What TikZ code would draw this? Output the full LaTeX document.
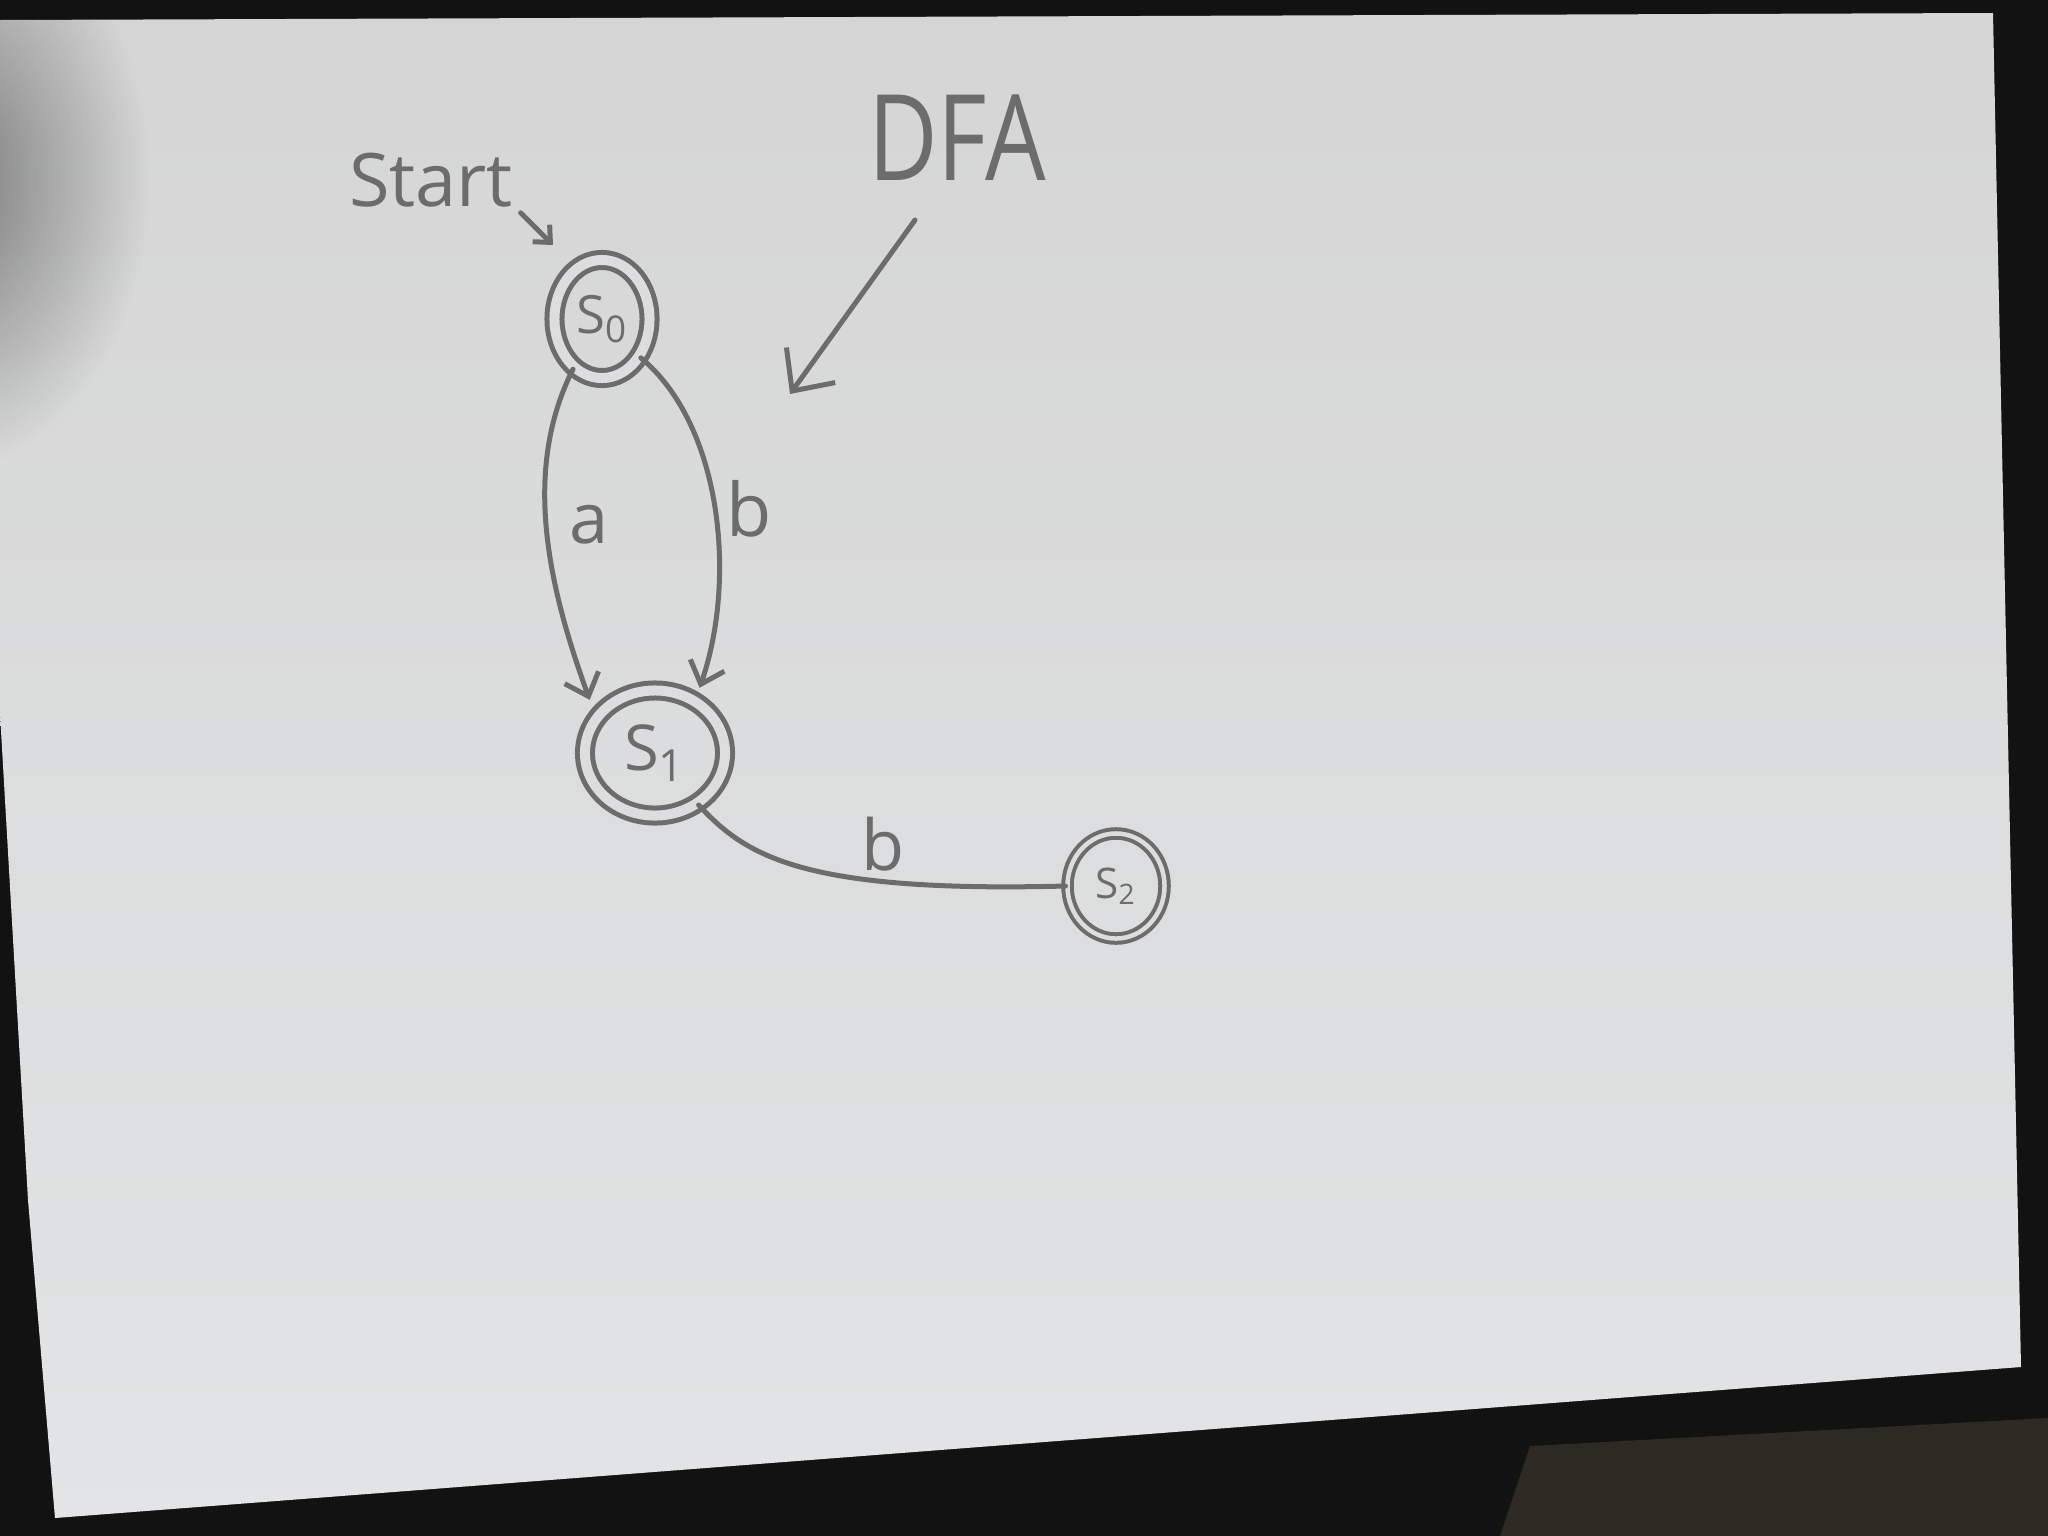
\documentclass[tikz,border=0pt]{standalone}
\usepackage{fontspec}
\setmainfont{Open Sans}
\usetikzlibrary{arrows.meta,shapes.geometric,fadings}
\definecolor{ink}{HTML}{6C6C6C}
\definecolor{paper}{HTML}{DCDDDE}
\definecolor{papertop}{HTML}{D5D5D5}
\definecolor{paperbot}{HTML}{E2E4E5}
\definecolor{desk}{HTML}{121212}
\definecolor{cloth}{HTML}{2C2A22}
\tikzfading[name=shadowfade, inner color=transparent!0, outer color=transparent!100]
\begin{document}
\begin{tikzpicture}[x=0.01cm,y=-0.01cm,
  inkline/.style={draw=ink, line width=0.05cm, line cap=round, line join=round},
  statebig/.style={ellipse, inkline, double=paper, double distance=0.1cm, inner sep=0pt, text=ink},
  statesmall/.style={ellipse, draw=ink, line width=0.04cm, double=paper, double distance=0.045cm, inner sep=0pt, text=ink},
  edgearrow/.style={inkline, -{Straight Barb[length=0.2cm,width=0.36cm]}},
  lbl/.style={text=ink, inner sep=0pt}]
\useasboundingbox (0,0) rectangle (2048,1536);
% photo background
\fill[desk] (0,0) rectangle (2048,1536);
\fill[cloth] (1500,1536) -- (1530,1446) -- (2048,1418) -- (2048,1536) -- cycle;
\begin{scope}
\clip (0,20) -- (1993,13) -- (2021,1367) -- (55,1518) -- (28,1200) -- (0,713) -- cycle;
\shade[top color=papertop, bottom color=paperbot] (0,0) rectangle (2048,1536);
\fill[black, opacity=0.45, path fading=shadowfade] (-60,180) ellipse (210 and 290);
\end{scope}

% states
\node[statebig, minimum width=0.95cm, minimum height=1.18cm, font=\fontsize{15}{18}\selectfont] (s0) at (602,319) {S\textsubscript{0}};
\node[statebig, minimum width=1.40cm, minimum height=1.25cm, font=\fontsize{18}{22}\selectfont] (s1) at (655,753) {S\textsubscript{1}};
\node[statesmall, minimum width=0.97cm, minimum height=1.05cm, font=\fontsize{12}{14}\selectfont] (s2) at (1116,886) {S\textsubscript{2}};

% labels
\node[lbl, font=\fontsize{21}{25}\selectfont] (start) at (431,180) {Start};
\node[lbl, font=\fontsize{34}{40}\selectfont] (dfa) at (957,138) {\scalebox{0.8}[1]{DFA}};
\coordinate (starttip) at (553,245);
\coordinate (dfafrom) at (915,220);
\coordinate (dfatip) at (790,394);

% start arrow
\draw[inkline, -{Straight Barb[length=0.13cm,width=0.24cm]}] ([shift={(7,5)}]start.south east) -- (starttip);
% DFA arrow
\draw[inkline, -{Straight Barb[length=0.32cm,width=0.6cm]}] (dfafrom) -- (dfatip);

% transitions
\draw[edgearrow, shorten >=0.17cm] (s0.240) .. controls (522,470) and (548,585) .. (s1.148)
  node[pos=0.48, right=0.2cm, lbl, font=\fontsize{20}{24}\selectfont] (la) {a};
\draw[edgearrow, shorten >=0.12cm] (s0.315) .. controls (722,425) and (737,580) .. (s1.53)
  node[pos=0.5, right=0.1cm, lbl, font=\fontsize{21}{25}\selectfont] (lb) {b};
\draw[inkline] (s1.-50) .. controls (745,855) and (800,893) .. (s2.west)
  node[pos=0.71, above=0.08cm, lbl, font=\fontsize{20}{24}\selectfont] (lb2) {b};
\end{tikzpicture}
\end{document}
